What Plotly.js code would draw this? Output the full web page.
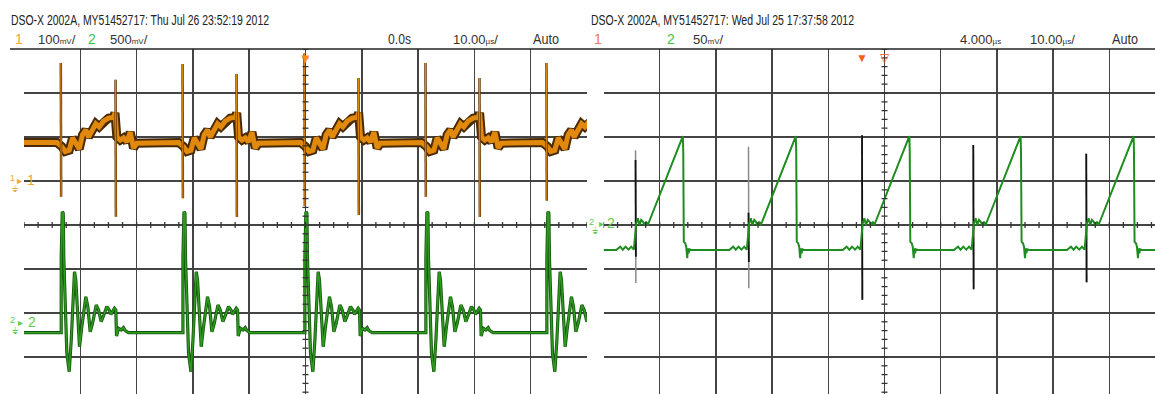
<!DOCTYPE html>
<html><head><meta charset="utf-8">
<script src="https://cdn.plot.ly/plotly-3.0.1.min.js"></script>
<style>html,body{margin:0;padding:0;background:#fff;overflow:hidden}#chart{width:1155px;height:394px}</style>
</head><body><div id="chart"></div>
<script>
// ================= LEFT SCREEN: Thu Jul 26 23:52:19 2012 (10 µs/div) =================
// pulse start times (µs)
const leftPulseStarts = [-43.46, -21.84, -0.18, 21.31, 42.80];
const leftSecondSpikes = [-33.74, -12.25, 9.41, 30.90];
// channel 1 (100 mV/div): baseline and one pulse shape (time after pulse start, mV)
const ch1BaselineMV = 87.5;
const ch1PulseT  = [-0.7, 0.18, 0.78, 1.49, 2.08, 2.66, 3.27, 3.85, 4.44, 4.92, 5.51, 6.22, 6.82, 7.58, 8.47, 9.36, 9.62, 9.95, 10.55, 11.14, 11.72, 12.33, 12.91, 13.50];
const ch1PulseMV = [87.5, 78, 67, 70, 98, 86, 73, 105, 116, 100, 116, 130, 123, 136, 143, 145, 155, 100, 93, 98, 89, 111, 75, 86];
const ch1StartSpikeTopMV    = [268, 266, 290, 268, 268];
const ch1StartSpikeBottomMV = [-36, -39, -57, -36, -45];
const ch1SecondSpikeTopMV    = [230, 243, 234, 234];
const ch1SecondSpikeBottomMV = [-81, -82, -77, -82];
// channel 2 (500 mV/div)
const ch2LeftBaselineMV = -99;
const ch2PulseT  = [-0.5, 0.07, 0.07, 0.25, 0.43, 0.53, 1.07, 1.49, 1.85, 2.43, 2.66, 3.14, 3.32, 3.73, 4.44, 4.80, 5.22, 5.63, 6.29, 6.70, 7.17, 7.64, 8.17, 8.60, 8.88, 9.54, 9.77, 9.89, 10.25, 10.73, 11.14, 11.44, 12.02];
const ch2PulseMV = [-99, -99, 747, 1276, 1258, 747, -333, -542, -182, 594, 500, -182, -258, -30, 310, 197, -88, 8, 216, 159, 26, 102, 197, 159, 110, 178, 159, -136, -49, -68, -42, -76, -99];

// ================= RIGHT SCREEN: Wed Jul 25 17:37:58 2012 (10 µs/div, 50 mV/div) =================
const rightSpikeTimes = [-40.3, -20.2, 0.0, 19.8, 39.9];
const rightBaselineMV = -28.4;
const rightPulseT  = [-3.43, -2.73, -2.26, -1.78, -1.25, -0.77, -0.30, 0.12, 0.41, 0.71, 1.01, 1.30, 1.60, 1.90, 2.19, 8.42, 8.49, 8.59, 8.84, 9.02, 9.20, 9.31, 9.43, 9.61, 9.91];
const rightPulseMV = [-28.4, -24.6, -28.0, -24.6, -28.0, -24.6, -28.0, 1.9, 7.6, 0, 5.7, 3.8, 0, 3.8, 0, 101.1, 83.3, -19, -20.8, -24.7, -37.8, -26.5, -32.2, -27.6, -28.4];
const rightSpikeOuterTopMV    = [85, 89, 102, 91, 81];
const rightSpikeOuterBottomMV = [-66, -72, -85, -73, -65];
const rightSpikeInnerTopMV    = [74, 14, 102, 91, 81];
const rightSpikeInnerBottomMV = [-36, -42, -85, -73, -65];

// ---------- helpers ----------
function pulseSeries(starts, tT, tV, base, xmin, xmax) {
  const x = [xmin], y = [base];
  starts.forEach(s => tT.forEach((t, i) => { x.push(s + t); y.push(tV[i]); }));
  if (x[x.length - 1] < xmax) { x.push(xmax); y.push(base); }
  return {x, y};
}
function spikeSeries(times, tops, bottoms) {
  const x = [], y = [];
  times.forEach((t, i) => { x.push(t, t + 0.06, null); y.push(tops[i], bottoms[i], null); });
  return {x, y};
}

const W = 1155, H = 394;
const TOP = 49, CENTER = 225, DIVPX = 44;
const domTop = (H - TOP) / H;
function chRange(mvPerDiv, groundPx) {
  const k = mvPerDiv / DIVPX;
  return [(groundPx - H) * k, (groundPx - TOP) * k];
}

const ch1 = pulseSeries(leftPulseStarts, ch1PulseT, ch1PulseMV, ch1BaselineMV, -50, 50);
const ch1Sp = spikeSeries(leftPulseStarts.concat(leftSecondSpikes),
  ch1StartSpikeTopMV.concat(ch1SecondSpikeTopMV), ch1StartSpikeBottomMV.concat(ch1SecondSpikeBottomMV));
const ch2L = pulseSeries(leftPulseStarts, ch2PulseT, ch2PulseMV, ch2LeftBaselineMV, -50, 50);
const ch2R = pulseSeries(rightSpikeTimes, rightPulseT, rightPulseMV, rightBaselineMV, -46, 52.13);
const spOut = spikeSeries(rightSpikeTimes, rightSpikeOuterTopMV, rightSpikeOuterBottomMV);
const spIn = spikeSeries(rightSpikeTimes, rightSpikeInnerTopMV, rightSpikeInnerBottomMV);

const ORANGE = '#e0890c', BROWN = '#4a2a05';
const traces = [
  {x: ch1.x, y: ch1.y, xaxis: 'x', yaxis: 'y', mode: 'lines', line: {color: BROWN, width: 9}, hoverinfo: 'skip'},
  {x: ch1.x, y: ch1.y, xaxis: 'x', yaxis: 'y', mode: 'lines', line: {color: ORANGE, width: 5}, hoverinfo: 'skip'},
  {x: ch1Sp.x, y: ch1Sp.y, xaxis: 'x', yaxis: 'y', mode: 'lines', line: {color: '#6a3a08', width: 2.5}, hoverinfo: 'skip'},
  {x: ch1Sp.x, y: ch1Sp.y, xaxis: 'x', yaxis: 'y', mode: 'lines', line: {color: ORANGE, width: 1}, hoverinfo: 'skip'},
  {x: ch2L.x, y: ch2L.y, xaxis: 'x', yaxis: 'y3', mode: 'lines', line: {color: '#135a0c', width: 3.2}, hoverinfo: 'skip'},
  {x: ch2L.x, y: ch2L.y, xaxis: 'x', yaxis: 'y3', mode: 'lines', line: {color: '#2f9a1f', width: 1.5}, hoverinfo: 'skip'},
  {x: spOut.x, y: spOut.y, xaxis: 'x2', yaxis: 'y2', mode: 'lines', line: {color: '#8a8a8a', width: 1.5}, hoverinfo: 'skip'},
  {x: spIn.x, y: spIn.y, xaxis: 'x2', yaxis: 'y2', mode: 'lines', line: {color: '#111', width: 1.8}, hoverinfo: 'skip'},
  {x: ch2R.x, y: ch2R.y, xaxis: 'x2', yaxis: 'y2', mode: 'lines', line: {color: '#1f8c1f', width: 2}, hoverinfo: 'skip'}
];

const GRID = '#444';
const gridAx = (dom, range, tick0, dtick) => ({domain: dom, range, tick0, dtick, showgrid: true, gridcolor: GRID, gridwidth: 1.5,
  zeroline: false, showticklabels: false, ticks: '', showline: false, fixedrange: true});

// graticule minor ticks on the centre lines
const shapes = [];
const tickLine = {color: '#333', width: 1.3};
for (let t = -50; t <= 50.001; t += 2.5) shapes.push({type: 'line', xref: 'x', yref: 'y', ysizemode: 'pixel', yanchor: -100, y0: -3, y1: 3, x0: t, x1: t, line: tickLine});
for (let v = -480; v <= 300.001; v += 20) shapes.push({type: 'line', xref: 'x', yref: 'y', xsizemode: 'pixel', xanchor: 0, x0: -3, x1: 3, y0: v, y1: v, line: tickLine});
for (let t = -46; t <= 52; t += 2.5) shapes.push({type: 'line', xref: 'x2', yref: 'y2', ysizemode: 'pixel', yanchor: 0, y0: -3, y1: 3, x0: t, x1: t, line: tickLine});
for (let v = -190; v <= 200.001; v += 10) shapes.push({type: 'line', xref: 'x2', yref: 'y2', xsizemode: 'pixel', xanchor: 4, x0: -3, x1: 3, y0: v, y1: v, line: tickLine});
shapes.push({type: 'line', xref: 'paper', yref: 'paper', x0: 10 / W, x1: 1, y0: 1 - TOP / H, y1: 1 - TOP / H, line: {color: '#222', width: 1.5}});

const FONT = 'Liberation Sans, Arial, sans-serif';
const squeeze = []; // [annotation index, target width px]
function txt(text, px, py, color, size, width) {
  if (width) squeeze.push([annotations.length, width]);
  annotations.push({text, xref: 'paper', yref: 'paper', x: px / W, y: 1 - py / H, xanchor: 'left', yanchor: 'middle', align: 'left',
    showarrow: false, borderpad: 0, font: {family: FONT, size: size || 13, color: color || '#222'}});
}
const sm = s => "<span style='font-size:8px'>" + s + "</span>";
const annotations = [];
txt('DSO-X 2002A, MY51452717: Thu Jul 26 23:52:19 2012', 10, 20, '#222', 14, 258);
txt('1', 14, 39, '#f2a33a', 14);
txt('100' + sm('mV') + '/', 37, 39, '#333', 13);
txt('2', 87, 39, '#3fc43f', 14);
txt('500' + sm('mV') + '/', 109, 39, '#333', 13);
txt('0.0s', 387, 39, '#333', 14, 23);
txt('10.00' + sm('µs') + '/', 452, 39, '#333', 13);
txt('Auto', 532, 39, '#333', 14, 26);
txt('DSO-X 2002A, MY51452717: Wed Jul 25 17:37:58 2012', 590, 20, '#222', 14, 263);
txt('1', 593, 39, '#f08040', 14);
txt('2', 666, 39, '#3fc43f', 14);
txt('50' + sm('mV') + '/', 692, 39, '#333', 13);
txt('4.000' + sm('µs'), 959, 39, '#333', 13);
txt('10.00' + sm('µs') + '/', 1029, 39, '#333', 13);
txt('Auto', 1111, 39, '#333', 14, 26);
// channel ground markers
txt('1', 9, 178, '#f2a33a', 9); txt('▸', 16, 180, '#f2a33a', 10); txt('1', 26, 180, '#f2a33a', 14); txt('⏚', 11, 189, '#f2a33a', 9);
txt('2', 9, 320, '#5ccc4c', 9); txt('▸', 17, 322, '#5ccc4c', 10); txt('2', 27, 322, '#5ccc4c', 14); txt('⏚', 11, 331, '#5ccc4c', 9);
txt('2', 588, 222, '#5ccc4c', 9); txt('▸', 598, 223, '#5ccc4c', 10); txt('2', 606, 223, '#5ccc4c', 14); txt('⏚', 591, 231, '#5ccc4c', 9);
// trigger markers
annotations.push({text: '▼', xref: 'x', yref: 'paper', x: 0, y: 1 - (TOP - 1) / H, xanchor: 'center', yanchor: 'top', showarrow: false, borderpad: 0, font: {size: 13, color: '#ff8a1a'}});
annotations.push({text: '▼', xref: 'x2', yref: 'paper', x: 0, y: 1 - (TOP - 1) / H, xanchor: 'center', yanchor: 'top', showarrow: false, borderpad: 0, font: {size: 12, color: '#ff5a1a'}});
annotations.push({text: '▽', xref: 'x2', yref: 'paper', x: 4, y: 1 - (TOP - 1) / H, xanchor: 'center', yanchor: 'top', showarrow: false, borderpad: 0, font: {size: 12, color: '#ff5a1a'}});

const layout = {
  width: W, height: H, margin: {l: 0, r: 0, t: 0, b: 0}, paper_bgcolor: '#fff', plot_bgcolor: '#fff', showlegend: false,
  xaxis: Object.assign(gridAx([24 / W, 587 / W], [-50, 50], -50, 10), {anchor: 'y'}),
  yaxis: Object.assign(gridAx([0, domTop], chRange(100, 181), 0, 100), {anchor: 'x'}),
  yaxis3: {overlaying: 'y', anchor: 'x', range: chRange(500, 324), visible: false, fixedrange: true},
  xaxis2: Object.assign(gridAx([603.5 / W, 1], [-46, 52.13], 4, 10), {anchor: 'y2'}),
  yaxis2: Object.assign(gridAx([0, domTop], chRange(50, CENTER), 0, 50), {anchor: 'x2'}),
  shapes, annotations
};
Plotly.newPlot('chart', traces, layout, {staticPlot: true, displayModeBar: false}).then(gd => {
  const groups = gd.querySelectorAll('g.annotation');
  squeeze.forEach(([i, w]) => {
    const t = groups[i] && groups[i].querySelector('text.annotation-text');
    if (t) { t.setAttribute('textLength', w); t.setAttribute('lengthAdjust', 'spacingAndGlyphs'); }
  });
});
</script></body></html>
